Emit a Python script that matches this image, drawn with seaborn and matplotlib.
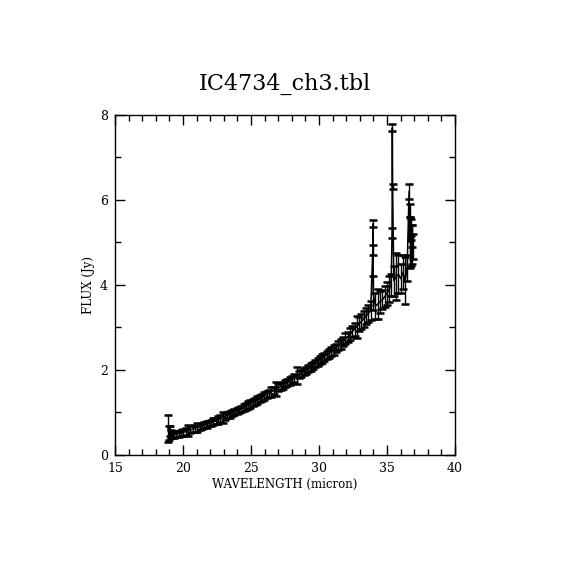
import numpy as np
import pandas as pd
import matplotlib
matplotlib.use("Agg")
import matplotlib.pyplot as plt
import seaborn as sns
from matplotlib.ticker import MultipleLocator

wavelength = [18.90, 18.95, 19.02, 19.10, 19.20, 19.35, 19.52, 19.69, 19.86, 20.03,
              20.20, 20.37, 20.54, 20.71, 20.88, 21.05, 21.22, 21.39, 21.56, 21.73,
              21.90, 22.07, 22.24, 22.41, 22.58, 22.75, 22.92, 23.09, 23.26, 23.43,
              23.60, 23.77, 23.94, 24.11, 24.28, 24.45, 24.62, 24.79, 24.96, 25.13,
              25.30, 25.47, 25.64, 25.81, 25.98, 26.15, 26.32, 26.49, 26.66, 26.83,
              27.00, 27.17, 27.34, 27.51, 27.68, 27.85, 28.02, 28.19, 28.36, 28.53,
              28.70, 28.87, 29.04, 29.21, 29.38, 29.55, 29.72, 29.89, 30.06, 30.23,
              30.40, 30.57, 30.74, 30.91, 31.08, 31.25, 31.42, 31.59, 31.76, 31.93,
              32.10, 32.27, 32.44, 32.61, 32.78, 32.95, 33.12, 33.29, 33.46, 33.63,
              33.80, 33.95, 33.97, 33.99, 34.14, 34.31, 34.48, 34.65, 34.82, 34.99,
              35.16, 35.30, 35.37, 35.39, 35.41, 35.50, 35.67, 35.84, 36.01, 36.18,
              36.33, 36.48, 36.62, 36.66, 36.70, 36.74, 36.78, 36.82, 36.86, 36.90]

flux = [0.62, 0.52, 0.56, 0.50, 0.47, 0.48, 0.49, 0.50, 0.51, 0.53,
        0.55, 0.57, 0.59, 0.61, 0.63, 0.65, 0.66, 0.68, 0.70, 0.72,
        0.74, 0.76, 0.78, 0.80, 0.83, 0.85, 0.88, 0.91, 0.93, 0.96,
        0.98, 1.01, 1.03, 1.06, 1.08, 1.11, 1.14, 1.17, 1.20, 1.23,
        1.26, 1.29, 1.32, 1.35, 1.39, 1.42, 1.45, 1.48, 1.52, 1.55,
        1.58, 1.61, 1.64, 1.68, 1.71, 1.74, 1.77, 1.81, 1.86, 1.89,
        1.92, 1.96, 1.99, 2.03, 2.07, 2.11, 2.15, 2.19, 2.23, 2.27,
        2.31, 2.35, 2.39, 2.43, 2.47, 2.52, 2.57, 2.62, 2.67, 2.73,
        2.78, 2.84, 2.90, 2.96, 3.02, 3.08, 3.14, 3.20, 3.27, 3.33,
        3.40, 4.82, 5.44, 3.80, 3.50, 3.55, 3.60, 3.65, 3.72, 3.80,
        3.90, 4.00, 5.23, 7.70, 6.31, 4.10, 4.20, 4.25, 4.15, 4.30,
        4.10, 4.40, 6.20, 5.00, 5.75, 4.75, 5.35, 4.95, 5.15, 4.90]

flux_err = [0.32, 0.16, 0.12, 0.09, 0.08, 0.07, 0.07, 0.07, 0.07, 0.08,
            0.08, 0.13, 0.08, 0.07, 0.08, 0.10, 0.08, 0.07, 0.07, 0.08,
            0.07, 0.07, 0.08, 0.08, 0.09, 0.08, 0.12, 0.08, 0.07, 0.08,
            0.07, 0.08, 0.07, 0.08, 0.07, 0.08, 0.08, 0.09, 0.10, 0.08,
            0.08, 0.09, 0.08, 0.08, 0.09, 0.08, 0.09, 0.12, 0.08, 0.17,
            0.08, 0.09, 0.08, 0.09, 0.08, 0.09, 0.08, 0.09, 0.20, 0.09,
            0.09, 0.08, 0.09, 0.08, 0.09, 0.08, 0.09, 0.10, 0.09, 0.10,
            0.09, 0.10, 0.10, 0.10, 0.11, 0.10, 0.11, 0.12, 0.11, 0.13,
            0.12, 0.14, 0.13, 0.15, 0.26, 0.16, 0.17, 0.19, 0.18, 0.21,
            0.22, 0.12, 0.08, 0.40, 0.30, 0.35, 0.25, 0.22, 0.25, 0.28,
            0.30, 0.25, 0.12, 0.08, 0.06, 0.35, 0.55, 0.45, 0.35, 0.40,
            0.55, 0.30, 0.18, 0.60, 0.15, 0.30, 0.20, 0.45, 0.25, 0.30]

data = pd.DataFrame({"wavelength": wavelength, "flux": flux, "err": flux_err})

sns.set_style("ticks")
plt.rcParams["font.family"] = ["DejaVu Serif"]
plt.rcParams["text.color"] = "black"
plt.rcParams["axes.labelcolor"] = "black"

fig = plt.figure(figsize=(5.7, 5.7), dpi=100)
ax = fig.add_axes([0.2018, 0.2018, 0.5965, 0.5965])

sns.lineplot(data=data, x="wavelength", y="flux", sort=False, estimator=None,
             color="black", linewidth=1.1, ax=ax)
ax.errorbar(data["wavelength"], data["flux"], yerr=data["err"], fmt="none",
            ecolor="black", elinewidth=1, capsize=3.2, capthick=1.8)

ax.set_xlim(15, 40)
ax.set_ylim(0, 8)
ax.xaxis.set_major_locator(MultipleLocator(5))
ax.xaxis.set_minor_locator(MultipleLocator(1))
ax.yaxis.set_major_locator(MultipleLocator(2))
ax.yaxis.set_minor_locator(MultipleLocator(1))
ax.tick_params(which="both", direction="in", top=True, right=True,
               width=1, labelsize=9, colors="black")
ax.tick_params(which="major", length=7, pad=5)
ax.tick_params(which="minor", length=4)
for s in ax.spines.values():
    s.set_linewidth(1)
    s.set_color("black")

ax.set_xlabel("WAVELENGTH (micron)", fontsize=8.5, labelpad=2)
ax.set_ylabel("FLUX (Jy)", fontsize=8.5, labelpad=4)
ax.set_title("IC4734_ch3.tbl", fontsize=16, pad=18, color="black")

fig.savefig("out.png", dpi=100, facecolor="white")
